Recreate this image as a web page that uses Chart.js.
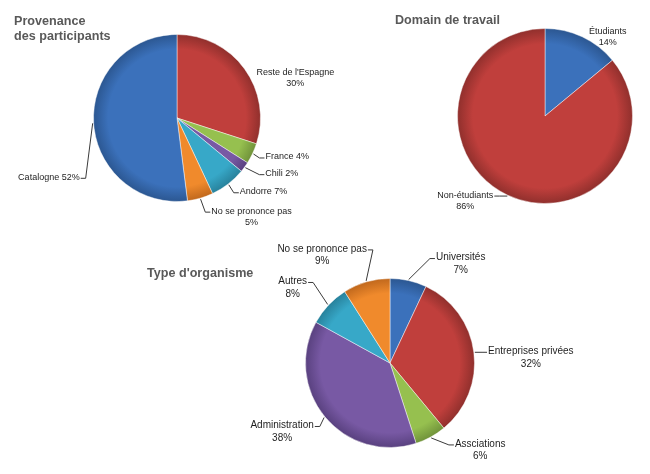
<!DOCTYPE html>
<html>
<head>
<meta charset="utf-8">
<script src="https://cdn.jsdelivr.net/npm/chart.js@4.4.1/dist/chart.umd.min.js"></script>
<style>
  body { margin: 0; background: #fff; }
  #wrap { position: relative; width: 650px; height: 474px; overflow: hidden; }
  #wrap canvas { position: absolute; left: 0; top: 0; }
  .title { position: absolute; font: bold 12.6px "Liberation Sans", Arial, sans-serif; color: #595959; line-height: 15px; white-space: nowrap; }
</style>
</head>
<body>
<div id="wrap">
  <canvas id="provenance" width="650" height="474"></canvas>
  <canvas id="domain" width="650" height="474"></canvas>
  <canvas id="organisme" width="650" height="474"></canvas>
  <div class="title" style="left:14px;top:14px">Provenance<br>des participants</div>
  <div class="title" style="left:395px;top:13px">Domain de travail</div>
  <div class="title" style="left:147px;top:266px">Type d'organisme</div>
</div>
<script>
  'use strict';

  // Data
  const provenanceLabels = ["Reste de l'Espagne", 'France', 'Chili', 'Andorre', 'No se prononce pas', 'Catalogne'];
  const provenanceValues = [30, 4, 2, 7, 5, 52];

  const domainLabels = ['Étudiants', 'Non-étudiants'];
  const domainValues = [14, 86];

  const organismeLabels = ['Universités', 'Entreprises privées', 'Assciations', 'Administration', 'Autres', 'No se prononce pas'];
  const organismeValues = [7, 32, 6, 38, 8, 9];

  // Office-like palette: [mid, dark edge]
  const palette = {
    blue:   ['#3b71bb', '#2b5690'],
    red:    ['#c03f3c', '#8f2f2c'],
    green:  ['#96c04f', '#6f913a'],
    purple: ['#7859a4', '#58407e'],
    cyan:   ['#37a8c8', '#27809a'],
    orange: ['#f08a2c', '#bf671c']
  };

  // Radial shading so the slices get a darker rim
  function shaded(names) {
    return function(context) {
      const c = palette[names[context.dataIndex]];
      const area = context.chart.chartArea;
      if (!area) return c[0];
      const cx = (area.left + area.right) / 2;
      const cy = (area.top + area.bottom) / 2;
      const r = Math.min(area.width, area.height) / 2;
      const g = context.chart.ctx.createRadialGradient(cx, cy, 0, cx, cy, r);
      g.addColorStop(0, c[0]);
      g.addColorStop(0.82, c[0]);
      g.addColorStop(1, c[1]);
      return g;
    };
  }

  // Labels with leader lines, placed relative to each slice's outer mid point
  const leaderLabels = {
    id: 'leaderLabels',
    afterDraw(chart, args, opts) {
      const ctx = chart.ctx;
      const meta = chart.getDatasetMeta(0);
      const values = chart.data.datasets[0].data;
      ctx.save();
      ctx.font = opts.font;
      ctx.fillStyle = '#1e1e1e';
      ctx.strokeStyle = '#3a3a3a';
      ctx.lineWidth = 1;
      ctx.textBaseline = 'middle';
      meta.data.forEach((arc, i) => {
        const p = opts.place[i];
        const mid = (arc.startAngle + arc.endAngle) / 2;
        const ax = arc.x + Math.cos(mid) * (arc.outerRadius + 1);
        const ay = arc.y + Math.sin(mid) * (arc.outerRadius + 1);
        const name = chart.data.labels[i];
        const pct = values[i] + '%';
        const lines = p.inline ? [name + ' ' + pct] : [name, pct];
        const tx = ax + p.dx;
        const ty = ay + p.dy;
        ctx.textAlign = p.align;
        lines.forEach((t, k) => ctx.fillText(t, tx, ty + k * opts.lineHeight));
        if (p.line) {
          const w = ctx.measureText(lines[0]).width;
          let side, ex;
          if (p.align === 'left') { side = -1; ex = tx; }
          else if (p.align === 'right') { side = 1; ex = tx; }
          else { side = tx > ax ? -1 : 1; ex = tx + side * w / 2; }
          const sx = ex + side * 1;
          const kx = ex + side * 6;
          ctx.beginPath();
          ctx.moveTo(sx, ty + 1);
          ctx.lineTo(kx, ty + 1);
          ctx.lineTo(ax, ay);
          ctx.stroke();
        }
      });
      ctx.restore();
    }
  };

  const baseOptions = {
    responsive: false,
    animation: false,
    events: [],
    plugins: {
      legend: { display: false },
      tooltip: { enabled: false }
    }
  };

  function makePie(id, labels, values, colors, padding, labelOpts) {
    new Chart(document.getElementById(id), {
      type: 'pie',
      data: {
        labels: labels,
        datasets: [{
          data: values,
          backgroundColor: shaded(colors),
          borderColor: 'rgba(255,255,255,0.45)',
          borderWidth: 1
        }]
      },
      options: {
        ...baseOptions,
        layout: { padding: padding },
        plugins: { ...baseOptions.plugins, leaderLabels: labelOpts }
      },
      plugins: [leaderLabels]
    });
  }

  // Provenance des participants
  makePie('provenance', provenanceLabels, provenanceValues,
    ['red', 'green', 'purple', 'cyan', 'orange', 'blue'],
    { left: 93, right: 389, top: 34, bottom: 272 },
    {
      font: '9px "Liberation Sans", Arial, sans-serif',
      lineHeight: 11,
      place: [
        { dx: 50, dy: 4, align: 'center', line: false },
        { dx: 12, dy: 3, align: 'left', line: true, inline: true },
        { dx: 20, dy: 6, align: 'left', line: true, inline: true },
        { dx: 11, dy: 7, align: 'left', line: true, inline: true },
        { dx: 51, dy: 12, align: 'center', line: true },
        { dx: -13, dy: 54, align: 'right', line: true, inline: true }
      ]
    });

  // Domain de travail
  makePie('domain', domainLabels, domainValues,
    ['blue', 'red'],
    { left: 457, right: 17, top: 28, bottom: 270 },
    {
      font: '9px "Liberation Sans", Arial, sans-serif',
      lineHeight: 11,
      place: [
        { dx: 25, dy: -4, align: 'center', line: false },
        { dx: -42, dy: -1, align: 'center', line: true }
      ]
    });

  // Type d'organisme
  makePie('organisme', organismeLabels, organismeValues,
    ['blue', 'red', 'green', 'purple', 'cyan', 'orange'],
    { left: 305, right: 175, top: 278, bottom: 26 },
    {
      font: '10px "Liberation Sans", Arial, sans-serif',
      lineHeight: 12.5,
      place: [
        { dx: 52, dy: -22, align: 'center', line: true },
        { dx: 56, dy: -1, align: 'center', line: true },
        { dx: 49, dy: 6, align: 'center', line: true },
        { dx: -42, dy: 8, align: 'center', line: true },
        { dx: -35, dy: -23, align: 'center', line: true },
        { dx: -44, dy: -32, align: 'center', line: true }
      ]
    });
</script>
</body>
</html>
